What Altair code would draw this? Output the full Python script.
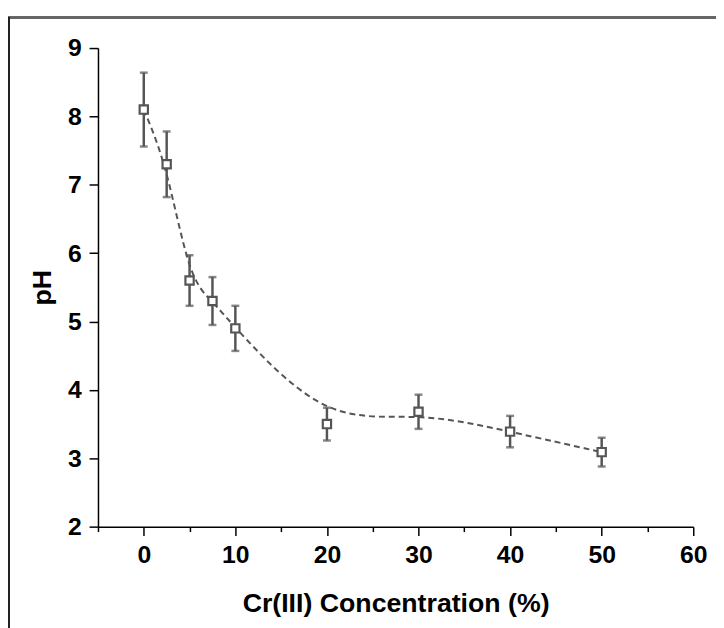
import altair as alt
import pandas as pd

# data
conc = [0, 2.5, 5, 7.5, 10, 20, 30, 40, 50]
ph = [8.1, 7.3, 5.6, 5.3, 4.9, 3.5, 3.68, 3.39, 3.09]
err = [0.54, 0.48, 0.37, 0.35, 0.33, 0.24, 0.25, 0.23, 0.21]

x_ticks = [-5, 0, 5, 10, 15, 20, 25, 30, 35, 40, 45, 50, 55, 60]
y_ticks = [2, 2.5, 3, 3.5, 4, 4.5, 5, 5.5, 6, 6.5, 7, 7.5, 8, 8.5, 9]

df = pd.DataFrame({"conc": conc, "ph": ph, "err": err})
df["lo"] = df["ph"] - df["err"]
df["hi"] = df["ph"] + df["err"]

MARK = "#555555"
FONT = "Liberation Sans"

xscale = alt.Scale(domain=[-5, 60], nice=False, zero=False)
yscale = alt.Scale(domain=[2, 9], nice=False, zero=False)

xaxis = alt.Axis(
    values=x_ticks,
    labelExpr="datum.value % 10 === 0 ? format(datum.value, 'd') : ''",
    tickSize={"condition": {"test": "datum.value % 10 === 0", "value": 9}, "value": 5},
    title="Cr(III) Concentration (%)",
    titleY=78, titleBaseline="middle",
    labelPadding=7,
)
yaxis = alt.Axis(
    values=y_ticks,
    labelExpr="datum.value % 1 === 0 ? format(datum.value, 'd') : ''",
    tickSize={"condition": {"test": "datum.value % 1 === 0", "value": 9}, "value": 5},
    title="pH",
    titleX=-56, titleY=242, titleBaseline="middle", titleAngle=-90,
    labelPadding=8,
)

base = alt.Chart(df)

line = base.mark_line(
    interpolate="basis", strokeDash=[6, 4], color=MARK, strokeWidth=2
).encode(
    x=alt.X("conc:Q", scale=xscale, axis=xaxis),
    y=alt.Y("ph:Q", scale=yscale, axis=yaxis),
)

bars = base.mark_rule(color=MARK, strokeWidth=2.5).encode(
    x="conc:Q", y="lo:Q", y2="hi:Q"
)
cap_lo = base.mark_tick(color=MARK, size=8, thickness=2.5, orient="horizontal").encode(
    x="conc:Q", y="lo:Q"
)
cap_hi = base.mark_tick(color=MARK, size=8, thickness=2.5, orient="horizontal").encode(
    x="conc:Q", y="hi:Q"
)
pts = base.mark_point(
    shape="square", filled=True, fill="white", stroke=MARK, strokeWidth=2.2,
    size=70, opacity=1
).encode(x="conc:Q", y="ph:Q")

frame_top = alt.Chart(df).mark_rule(color="#666666", strokeWidth=2).encode(
    x=alt.value(-91), x2=alt.value(625), y=alt.value(-31)
)
frame_left = alt.Chart(df).mark_rule(color="#222222", strokeWidth=2).encode(
    x=alt.value(-90), y=alt.value(-31), y2=alt.value(620)
)

chart = alt.layer(line, bars, cap_lo, cap_hi, pts, frame_top, frame_left).properties(
    width=602, height=484,
    autosize=alt.AutoSizeParams(type="none"),
    padding={"left": 91, "top": 37, "right": 23, "bottom": 99},
    background="white",
).configure_view(stroke=None).configure_axis(
    grid=False,
    domainColor="black", domainWidth=1.5,
    tickColor="black", tickWidth=1.5,
    labelFont=FONT, labelFontSize=25, labelFontWeight="bold", labelColor="black",
    titleFont=FONT, titleFontSize=27, titleFontWeight="bold", titleColor="black",
    labelOverlap=False, labelFlush=False,
)

chart.save("out.html", embed_options={"renderer": "svg", "actions": False})
